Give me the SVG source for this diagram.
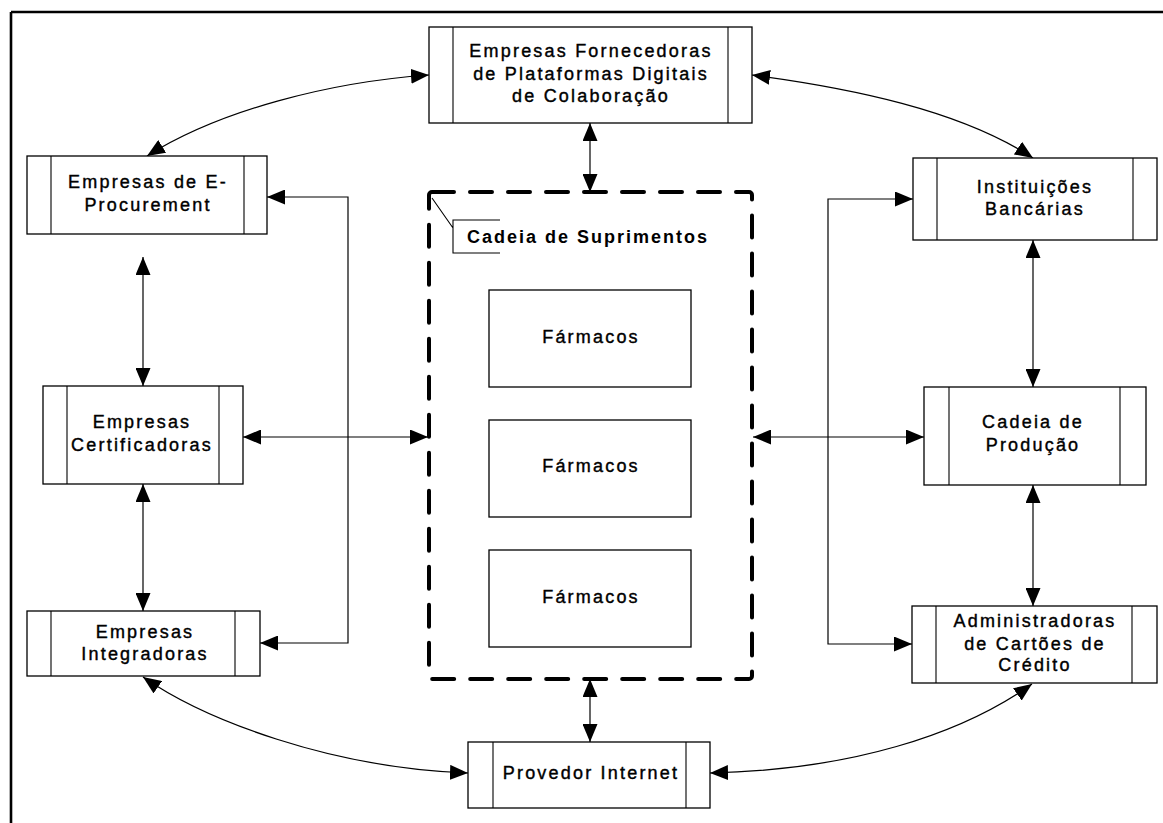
<svg xmlns="http://www.w3.org/2000/svg" width="1163" height="823" viewBox="0 0 1163 823">
  <style>
    .box { fill: #fff; stroke: #000; stroke-width: 1.3; }
    .div { stroke: #000; stroke-width: 1.1; fill: none; }
    .lbl { font-family: "Liberation Sans", Arial, sans-serif; font-size: 18px; letter-spacing: 2.2px; text-anchor: middle; fill: #000; stroke: #000; stroke-width: 0.4px; }
    .ttl { font-family: "Liberation Sans", Arial, sans-serif; font-size: 18px; font-weight: bold; letter-spacing: 2px; fill: #000; }
    .con { fill: none; stroke: #000; stroke-width: 1.2; marker-start: url(#ah); marker-end: url(#ah); }
    .frame { fill: none; stroke: #000; stroke-width: 2.6; }
  </style>
  <defs>
    <marker id="ah" markerUnits="userSpaceOnUse" markerWidth="19" markerHeight="15" refX="18" refY="7.5" orient="auto-start-reverse">
      <path d="M0,0 L18,7.5 L0,15 z" fill="#000"/>
    </marker>
  </defs>

  <rect width="1163" height="823" fill="#fff"/>

  <!-- page frame (top and left rules) -->
  <path class="frame" d="M11,12 H1163 M11,12 V823"/>

  <!-- supply-chain container -->
  <g id="cadeia-suprimentos">
    <rect x="429" y="192" width="323" height="487" rx="3" fill="none" stroke="#000" stroke-width="4" stroke-dasharray="22 16" stroke-linecap="round"/>
    <path class="div" d="M432,198 L453,228 M500,220 H453 V253 H500"/>
    <text class="ttl" x="467" y="243">Cadeia de Suprimentos</text>
  </g>

  <g id="farmacos-1">
    <rect class="box" x="489" y="290" width="202" height="97"/>
    <text class="lbl" x="591" y="343">Fármacos</text>
  </g>
  <g id="farmacos-2">
    <rect class="box" x="489" y="420" width="202" height="97"/>
    <text class="lbl" x="591" y="472">Fármacos</text>
  </g>
  <g id="farmacos-3">
    <rect class="box" x="489" y="550" width="202" height="97"/>
    <text class="lbl" x="591" y="603">Fármacos</text>
  </g>

  <!-- connectors -->
  <g id="connectors">
    <path class="con" d="M590,123 V192"/>
    <path class="con" d="M590,679 V742"/>
    <path class="con" d="M143,257 V386"/>
    <path class="con" d="M143,484 V611"/>
    <path class="con" d="M243,437 H428"/>
    <path class="con" d="M267,197 H348 V643 H260"/>
    <path class="con" d="M913,199 H828 V644 H912"/>
    <path class="con" d="M753,437 H924"/>
    <path class="con" d="M1033,240 V387"/>
    <path class="con" d="M1033,485 V606"/>
    <path class="con" d="M429,75 C330,82 220,110 147,156"/>
    <path class="con" d="M752,75 C850,88 960,110 1033,158"/>
    <path class="con" d="M143,677 C205,720 330,768 468,773"/>
    <path class="con" d="M710,773 C850,770 960,735 1032,684"/>
  </g>

  <!-- external partners -->
  <g id="fornecedoras">
    <rect class="box" x="429" y="27" width="323" height="96"/>
    <path class="div" d="M453,27 V123 M728,27 V123"/>
    <text class="lbl" x="591" y="57">Empresas Fornecedoras</text>
    <text class="lbl" x="591" y="80">de Plataformas Digitais</text>
    <text class="lbl" x="591" y="102">de Colaboração</text>
  </g>

  <g id="e-procurement">
    <rect class="box" x="27" y="156" width="240" height="78"/>
    <path class="div" d="M51,156 V234 M244,156 V234"/>
    <text class="lbl" x="148" y="188">Empresas de E-</text>
    <text class="lbl" x="148" y="211">Procurement</text>
  </g>

  <g id="certificadoras">
    <rect class="box" x="43" y="386" width="200" height="98"/>
    <path class="div" d="M67,386 V484 M219,386 V484"/>
    <text class="lbl" x="142" y="428">Empresas</text>
    <text class="lbl" x="142" y="451">Certificadoras</text>
  </g>

  <g id="integradoras">
    <rect class="box" x="27" y="611" width="233" height="65"/>
    <path class="div" d="M51,611 V676 M235,611 V676"/>
    <text class="lbl" x="145" y="638">Empresas</text>
    <text class="lbl" x="145" y="660">Integradoras</text>
  </g>

  <g id="bancarias">
    <rect class="box" x="913" y="158" width="244" height="82"/>
    <path class="div" d="M937,158 V240 M1133,158 V240"/>
    <text class="lbl" x="1035" y="193">Instituições</text>
    <text class="lbl" x="1035" y="215">Bancárias</text>
  </g>

  <g id="producao">
    <rect class="box" x="924" y="387" width="222" height="98"/>
    <path class="div" d="M949,387 V485 M1120,387 V485"/>
    <text class="lbl" x="1033" y="428">Cadeia de</text>
    <text class="lbl" x="1033" y="451">Produção</text>
  </g>

  <g id="cartoes">
    <rect class="box" x="912" y="606" width="245" height="77"/>
    <path class="div" d="M936,606 V683 M1132,606 V683"/>
    <text class="lbl" x="1035" y="627">Administradoras</text>
    <text class="lbl" x="1035" y="650">de Cartões de</text>
    <text class="lbl" x="1035" y="671">Crédito</text>
  </g>

  <g id="provedor">
    <rect class="box" x="468" y="742" width="242" height="66"/>
    <path class="div" d="M493,742 V808 M686,742 V808"/>
    <text class="lbl" x="591" y="779">Provedor Internet</text>
  </g>
</svg>
